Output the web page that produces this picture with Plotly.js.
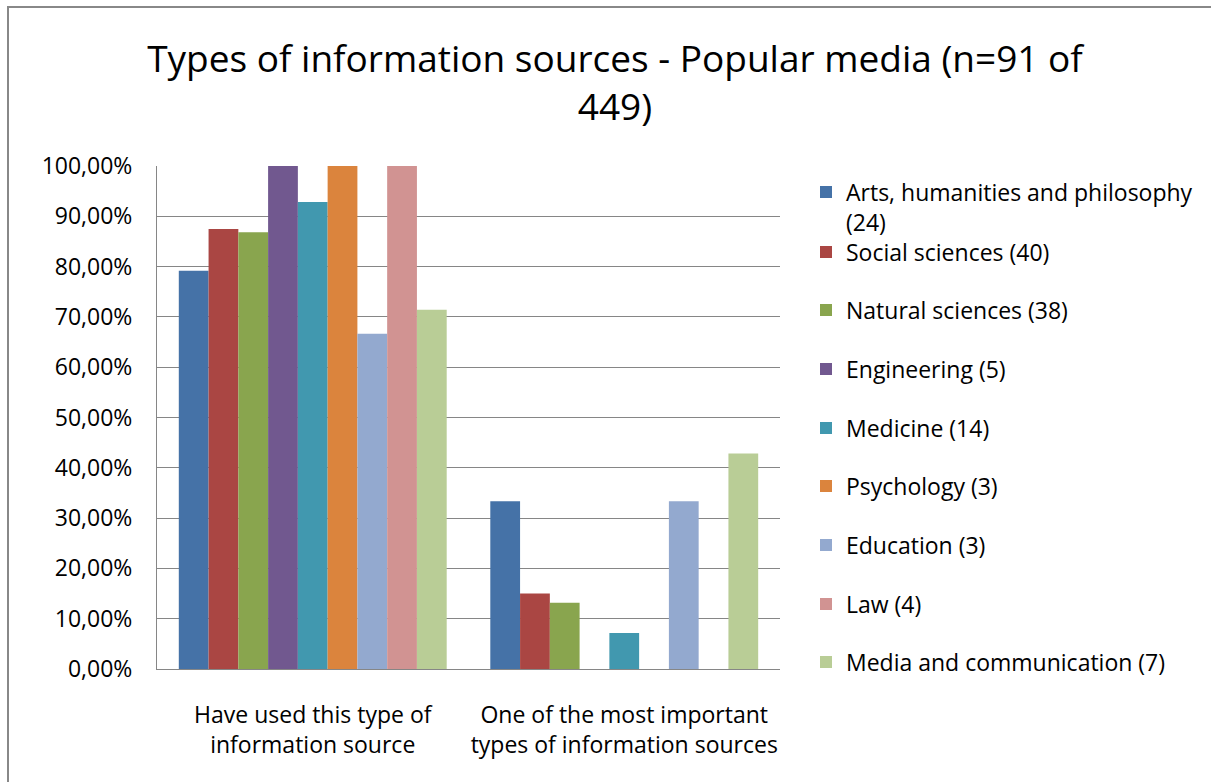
<!DOCTYPE html>
<html>
<head>
<meta charset="utf-8">
<script src="https://cdn.plot.ly/plotly-3.0.1.min.js"></script>
<style>
html,body{margin:0;padding:0;background:#fff;}
#chart{width:1211px;height:782px;}
</style>
</head>
<body>
<div id="chart"></div>
<script>
// ---- data ----
const categories = [
  "Have used this type of<br>information source",
  "One of the most important<br>types of information sources"
];
const seriesNames = [
  "Arts, humanities and philosophy<br>(24)",
  "Social sciences (40)",
  "Natural sciences (38)",
  "Engineering (5)",
  "Medicine (14)",
  "Psychology (3)",
  "Education (3)",
  "Law (4)",
  "Media and communication (7)"
];
const arts        = [79.17, 33.33];
const social      = [87.50, 15.00];
const natural     = [86.84, 13.16];
const engineering = [100.00, 0];
const medicine    = [92.86, 7.14];
const psychology  = [100.00, 0];
const education   = [66.67, 33.33];
const law         = [100.00, 0];
const media       = [71.43, 42.86];
const seriesValues = [arts, social, natural, engineering, medicine, psychology, education, law, media];
const colors = ["#4572A7","#AA4643","#89A54E","#71588F","#4198AF","#DB843D","#93A9CF","#D19392","#B9CD96"];

// ---- layout geometry ----
const W = 1211, H = 782;
const plotL = 157, plotR = 780, plotT = 166, plotB = 669;
const ph = plotB - plotT, pw = plotR - plotL;
const legendCenters = [207, 252, 310, 369, 428, 486, 545, 604, 662];
const FONT = "'Open Sans', Lato, sans-serif";
const FS = 23;

const traces = seriesNames.map((name, i) => ({
  type: "bar",
  name: name,
  x: categories,
  y: seriesValues[i],
  marker: {color: colors[i], line: {width: 0}},
  legend: i === 0 ? "legend" : "legend" + (i + 1),
  showlegend: true,
  hoverinfo: "name+y"
}));

const layout = {
  width: W, height: H,
  paper_bgcolor: "#fff",
  plot_bgcolor: "#fff",
  separators: ", ",
  showlegend: true,
  font: {family: FONT, size: FS, color: "#000"},
  margin: {l: plotL, r: W - plotR, t: plotT, b: H - plotB, pad: 0},
  title: {
    text: "Types of information sources - Popular media (n=91 of<br>449)",
    font: {family: FONT, size: 37, color: "#000"},
    xref: "container", yref: "container",
    x: 615 / W, xanchor: "center",
    y: 1 - 72 / H, yanchor: "middle"
  },
  barmode: "group",
  bargap: 0.14,
  bargroupgap: 0,
  xaxis: {
    type: "category",
    showline: true, linecolor: "#868686", linewidth: 1,
    ticks: "", tickfont: {family: FONT, size: FS, color: "#000"},
    ticklabelstandoff: 25,
    showgrid: false, zeroline: false
  },
  yaxis: {
    range: [0, 100], dtick: 10, tick0: 0,
    tickformat: ".2f", ticksuffix: "%",
    showline: true, linecolor: "#868686", linewidth: 1,
    showgrid: true, gridcolor: "#868686", gridwidth: 1,
    zeroline: false, ticks: "",
    ticklabelstandoff: 19,
    tickfont: {family: FONT, size: FS, color: "#000"}
  },
  shapes: [{
    type: "rect", xref: "paper", yref: "paper",
    x0: (8 - plotL) / pw, x1: 2,
    y0: -1, y1: (plotB - 7) / ph,
    line: {color: "#888888", width: 2}, fillcolor: "rgba(0,0,0,0)", layer: "below"
  }]
};

legendCenters.forEach((cy, i) => {
  const key = i === 0 ? "legend" : "legend" + (i + 1);
  layout[key] = {
    visible: true,
    x: (806 - plotL) / pw, xanchor: "left",
    y: (plotB - cy) / ph, yanchor: "middle",
    bgcolor: "rgba(0,0,0,0)", borderwidth: 0,
    font: {family: FONT, size: FS, color: "#000"},
    valign: i === 0 ? "top" : "middle",
    itemwidth: 30
  };
});

Plotly.newPlot("chart", traces, layout, {displayModeBar: false, staticPlot: true});
</script>
</body>
</html>
